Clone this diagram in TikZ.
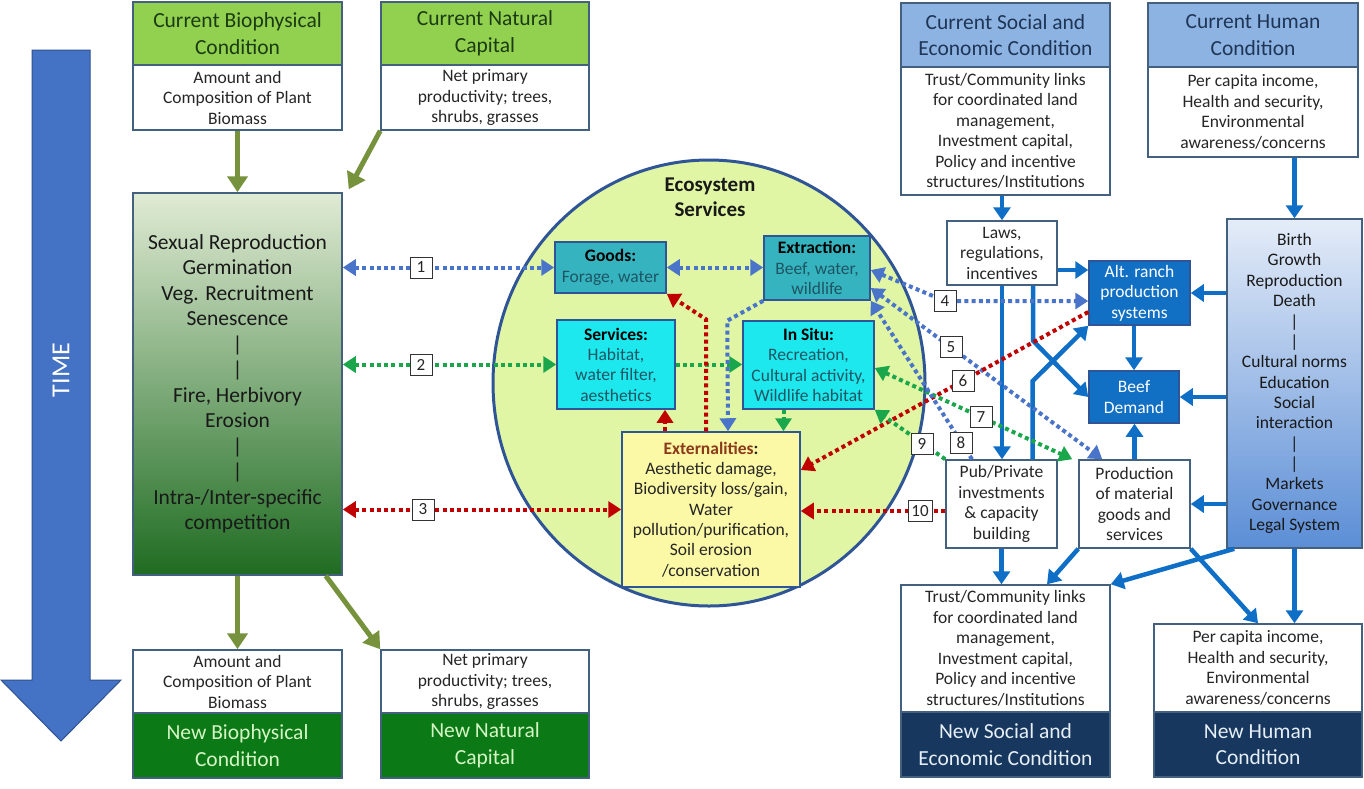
\documentclass[tikz,border=0pt]{standalone}
\usepackage{fontspec}
\setmainfont{Carlito}
\usetikzlibrary{arrows.meta,shapes.geometric,calc}
\definecolor{bord}{HTML}{44607F}
\definecolor{hgreen}{HTML}{92D050}
\definecolor{hgreenT}{HTML}{1B3B12}
\definecolor{ngreen}{HTML}{0B7A16}
\definecolor{ngreenT}{HTML}{D5F5C5}
\definecolor{plantTop}{HTML}{E0EBD4}
\definecolor{plantBot}{HTML}{1F6C22}
\definecolor{olive}{HTML}{76923C}
\definecolor{hblue}{HTML}{8DB3E2}
\definecolor{hblueT}{HTML}{1F3556}
\definecolor{navy}{HTML}{17375E}
\definecolor{navyT}{HTML}{E6EEF6}
\definecolor{sblue}{HTML}{0F6EC6}
\definecolor{altfill}{HTML}{1170C4}
\definecolor{bigTop}{HTML}{E4ECF8}
\definecolor{bigBot}{HTML}{5B8ED6}
\definecolor{ecofill}{HTML}{E0F6A4}
\definecolor{ecobord}{HTML}{2F5597}
\definecolor{teal}{HTML}{35B3BF}
\definecolor{cyanb}{HTML}{1CE8EE}
\definecolor{yell}{HTML}{FBF8A6}
\definecolor{dblue}{HTML}{4A74C9}
\definecolor{dgreen}{HTML}{1AA64A}
\definecolor{dred}{HTML}{C00000}
\definecolor{brownT}{HTML}{8B3A1A}
\definecolor{txt}{HTML}{262626}
\definecolor{tealT}{HTML}{1F5563}
\definecolor{timeb}{HTML}{4472C4}
\definecolor{timebd}{HTML}{2F528F}
\begin{document}
\begin{tikzpicture}[x=1pt,y=-1pt,
  box/.style={draw=bord, line width=1.5pt, inner sep=0pt, align=center, text=txt},
  fH/.style={font=\fontsize{21.5}{26.5}\selectfont},
  fB/.style={font=\fontsize{17.5}{20.5}\selectfont},
  ibox/.style={draw=ecobord, line width=1.5pt, inner sep=0pt, align=center, font=\fontsize{17.5}{20.3}\selectfont},
  numlab/.style={draw=black!80, fill=white, line width=1pt, minimum width=22pt, minimum height=21pt, inner sep=0pt, font=\fontsize{17}{17}\selectfont, text=txt},
  dotB/.style={draw=dblue, line width=4pt, dash pattern=on 4pt off 3.3pt, >={Triangle[length=13pt,width=16pt]}},
  dotG/.style={draw=dgreen, line width=4pt, dash pattern=on 4pt off 3.3pt, >={Triangle[length=13pt,width=16pt]}},
  dotR/.style={draw=dred, line width=4pt, dash pattern=on 4pt off 3.3pt, >={Triangle[length=13pt,width=16pt]}},
  sarr/.style={draw=sblue, line width=4.5pt, -{Triangle[length=13pt,width=17pt]}},
  garr/.style={draw=olive, line width=5pt, -{Triangle[length=16pt,width=20pt]}}]
\useasboundingbox (0,0) rectangle (1364,788);
\fill[white] (0,0) rectangle (1364,788);

% TIME arrow
\filldraw[fill=timeb, draw=timebd, line width=1pt] (32,50) -- (90,50) -- (90,680) -- (121,680) -- (61,741) -- (1,680) -- (32,680) -- cycle;
\node[rotate=90, text=white, font=\fontsize{26}{26}\selectfont] (time) at (61,370) {TIME};

% ecosystem circle
\node[ellipse, draw=ecobord, line width=3pt, fill=ecofill, minimum width=432pt, minimum height=446pt, inner sep=0pt] (eco) at (709,383) {};
\node[font=\fontsize{21}{25}\bfseries\selectfont, align=center, text=black!90] (ecot) at (710,197) {Ecosystem\\Services};

% left column
\node[box, fH, fill=hgreen, text=hgreenT, minimum width=209pt, minimum height=63pt] (cbH) at (237.5,33.5) {Current Biophysical\\Condition};
\node[box, fB, fill=white, minimum width=209pt, minimum height=65pt] (cbB) at (237.5,97.5) {Amount and\\Composition of Plant\\Biomass};
\node[box, fH, fill=hgreen, text=hgreenT, minimum width=208pt, minimum height=63pt] (cnH) at (485,33.5) {Current Natural\\Capital};
\node[box, fB, fill=white, minimum width=208pt, minimum height=65pt] (cnB) at (485,97.5) {Net primary\\productivity; trees,\\shrubs, grasses};
\node[box, font=\fontsize{21.5}{25.5}\selectfont, top color=plantTop, bottom color=plantBot, text=black!90, minimum width=209pt, minimum height=382pt] (plant) at (237.5,384) {Sexual Reproduction\\Germination\\Veg. Recruitment\\Senescence\\|\\|\\Fire, Herbivory\\Erosion\\|\\|\\Intra-/Inter-specific\\competition};
\node[box, fB, fill=white, minimum width=209pt, minimum height=63pt] (nbB) at (237.5,681.5) {Amount and\\Composition of Plant\\Biomass};
\node[box, fH, fill=ngreen, text=ngreenT, minimum width=209pt, minimum height=65pt] (nbH) at (237.5,745.5) {New Biophysical\\Condition};
\node[box, fB, fill=white, minimum width=208pt, minimum height=63pt] (nnB) at (485,681.5) {Net primary\\productivity; trees,\\shrubs, grasses};
\node[box, fH, fill=ngreen, text=ngreenT, minimum width=208pt, minimum height=65pt] (nnH) at (485,745.5) {New Natural\\Capital};

% green arrows
\draw[garr] (cbB.south) -- (plant.north);
\draw[garr] (cnB.south west) -- ([xshift=6pt,yshift=3pt]plant.north east);
\draw[garr] (plant.south) -- (nbB.north);
\draw[garr] ([xshift=-17pt]plant.south east) -- (nnB.north west);

% inner boxes
\node[ibox, fill=teal, minimum width=111pt, minimum height=51pt] (goods) at (610.5,267.5) {\textbf{Goods:}\\\textcolor{tealT}{Forage, water}};
\node[ibox, fill=teal, minimum width=106pt, minimum height=64pt] (extr) at (817,268) {\textbf{Extraction:}\\\textcolor{tealT}{Beef, water,}\\\textcolor{tealT}{wildlife}};
\node[ibox, fill=cyanb, minimum width=118pt, minimum height=89pt] (serv) at (616,364.5) {\textbf{Services:}\\\textcolor{tealT}{Habitat,}\\\textcolor{tealT}{water filter,}\\\textcolor{tealT}{aesthetics}};
\node[ibox, fill=cyanb, minimum width=131pt, minimum height=88pt] (insitu) at (808.5,365) {\textbf{In Situ:}\\\textcolor{tealT}{Recreation,}\\\textcolor{tealT}{Cultural activity,}\\\textcolor{tealT}{Wildlife habitat}};
\node[ibox, fill=yell, text=txt, minimum width=178pt, minimum height=155pt] (ext) at (711,509.5) {\textbf{\textcolor{brownT}{Externalities}:}\\Aesthetic damage,\\Biodiversity loss/gain,\\Water\\pollution/purification,\\Soil erosion\\/conservation};

% right column
\node[box, fH, fill=hblue, text=hblueT, minimum width=209pt, minimum height=64pt] (csH) at (1005.5,35) {Current Social and\\Economic Condition};
\node[box, fB, fill=white, minimum width=209pt, minimum height=128pt] (csB) at (1005.5,131) {Trust/Community links\\for coordinated land\\management,\\Investment capital,\\Policy and incentive\\structures/Institutions};
\node[box, fH, fill=hblue, text=hblueT, minimum width=210pt, minimum height=64pt] (chH) at (1253,35) {Current Human\\Condition};
\node[box, fB, fill=white, minimum width=210pt, minimum height=90pt] (chB) at (1253,112) {Per capita income,\\Health and security,\\Environmental\\awareness/concerns};
\node[box, fB, fill=white, minimum width=110pt, minimum height=64pt] (laws) at (1002,253) {Laws,\\regulations,\\incentives};
\node[box, fB, fill=altfill, draw=ecobord, text=white, minimum width=101pt, minimum height=64pt] (alt) at (1139.5,293) {Alt. ranch\\production\\systems};
\node[box, fB, fill=altfill, draw=ecobord, text=white, minimum width=90pt, minimum height=52pt] (beef) at (1134,397) {Beef\\Demand};
\node[box, fB, fill=white, minimum width=111pt, minimum height=88pt] (pub) at (1001.5,504) {Pub/Private\\investments\\\& capacity\\building};
\node[box, fB, fill=white, minimum width=111pt, minimum height=88pt] (prod) at (1134.5,504) {Production\\of material\\goods and\\services};
\node[box, font=\fontsize{17.5}{20.36}\selectfont, top color=bigTop, bottom color=bigBot, text=black!90, minimum width=135pt, minimum height=329pt] (big) at (1294.5,383.5) {Birth\\Growth\\Reproduction\\Death\\|\\|\\Cultural norms\\Education\\Social\\interaction\\|\\|\\Markets\\Governance\\Legal System};
\node[box, fB, fill=white, minimum width=209pt, minimum height=127pt] (nsB) at (1005.5,648.5) {Trust/Community links\\for coordinated land\\management,\\Investment capital,\\Policy and incentive\\structures/Institutions};
\node[box, fH, fill=navy, text=navyT, minimum width=209pt, minimum height=65pt] (nsH) at (1005.5,744.5) {New Social and\\Economic Condition};
\node[box, fB, fill=white, minimum width=208pt, minimum height=88pt] (nhB) at (1258,668) {Per capita income,\\Health and security,\\Environmental\\awareness/concerns};
\node[box, fH, fill=navy, text=navyT, minimum width=208pt, minimum height=65pt] (nhH) at (1258,744.5) {New Human\\Condition};

% solid blue arrows
\draw[sarr] (laws.north |- csB.south) -- (laws.north);
\draw[sarr] (big.north |- chB.south) -- (big.north);
\draw[sarr] ([yshift=-17pt]laws.east) -- ([yshift=-17pt]laws.east -| alt.west);
\draw[sarr] (laws.south) -- (laws.south |- pub.north);
\draw[sarr] ([xshift=31pt]laws.south) -- ++(0,55) -- (beef.west);
\draw[sarr] ([xshift=31pt]pub.north) -- ++(0,-78) -- (alt.south west);
\draw[sarr] (beef.north |- alt.south) -- (beef.north);
\draw[sarr] (prod.north) -- (prod.north |- beef.south);
\draw[sarr] (big.west |- alt.east) -- (alt.east);
\draw[sarr] (big.west |- beef.east) -- (beef.east);
\draw[sarr] (big.west |- prod.east) -- (prod.east);
\draw[sarr] (big.south) -- (big.south |- nhB.north);
\draw[sarr] (pub.south) -- (pub.south |- nsB.north);
\draw[sarr] (prod.south west) -- ([xshift=41.5pt]nsB.north);
\draw[sarr] ([xshift=8pt]big.south west) -- (nsB.north east);
\draw[sarr] (prod.south east) -- (nhB.north);

% label positions
\coordinate (l1) at (421,267.5);
\coordinate (l2) at (421,364.5);
\coordinate (l3) at (423,509.5);
\coordinate (l4) at (945,301);
\coordinate (l5) at (951,347);
\coordinate (l6) at (963,381);
\coordinate (l7) at (981,417);
\coordinate (l8) at (961,443);
\coordinate (l9) at (922,444);
\coordinate (l10) at (920,511);

% dotted connectors
\draw[dotB,<->] (plant.east |- goods.west) -- (goods.west);
\draw[dotG,<->] (plant.east |- serv.west) -- (serv.west);
\draw[dotR,<->] (plant.east |- ext.west) -- (ext.west);
\draw[dotB,<->] (goods.east) -- (goods.east -| extr.west);
\draw[dotG,->] (serv.east) -- (serv.east -| insitu.west);
\draw[dotR,->] ([xshift=-46pt]ext.north) -- ([xshift=-46pt]ext.north |- serv.south);
\draw[dotR,->] ([xshift=-5pt]ext.north) -- ++(0,-112) -- (goods.south east);
\draw[dotB,->] (extr.south west) -- ++(-36,20) -- ([xshift=17pt]ext.north);
\draw[dotG,->] ([xshift=-25pt]insitu.south) -- ([xshift=-25pt]insitu.south |- ext.north);
\draw[dotB,<->] ([yshift=-2pt]extr.east) -- (l4) -- (l4 -| alt.west);
\draw[dotB,<->] ([yshift=-20pt]extr.east) -- ([xshift=24pt]prod.north west);
\draw[dotR,->] ([yshift=-19pt]alt.west) -- ([yshift=39.5pt]ext.east);
\draw[dotG,<->] ([yshift=-3pt]insitu.east) -- ([xshift=-6pt]prod.north west);
\draw[dotB,->] ([xshift=-29.5pt]pub.north) -- (extr.south east);
\draw[dotG,->] (pub.north west) -- (insitu.south east);
\draw[dotR,->] ([yshift=-7pt]pub.west) -- ([yshift=-1.5pt]ext.east);

% number labels
\node[numlab] (n1) at (l1) {1};
\node[numlab] (n2) at (l2) {2};
\node[numlab] (n3) at (l3) {3};
\node[numlab] (n4) at (l4) {4};
\node[numlab] (n5) at (l5) {5};
\node[numlab] (n6) at (l6) {6};
\node[numlab] (n7) at (l7) {7};
\node[numlab] (n8) at (l8) {8};
\node[numlab] (n9) at (l9) {9};
\node[numlab, minimum width=24pt] (n10) at (l10) {10};
\end{tikzpicture}
\end{document}
